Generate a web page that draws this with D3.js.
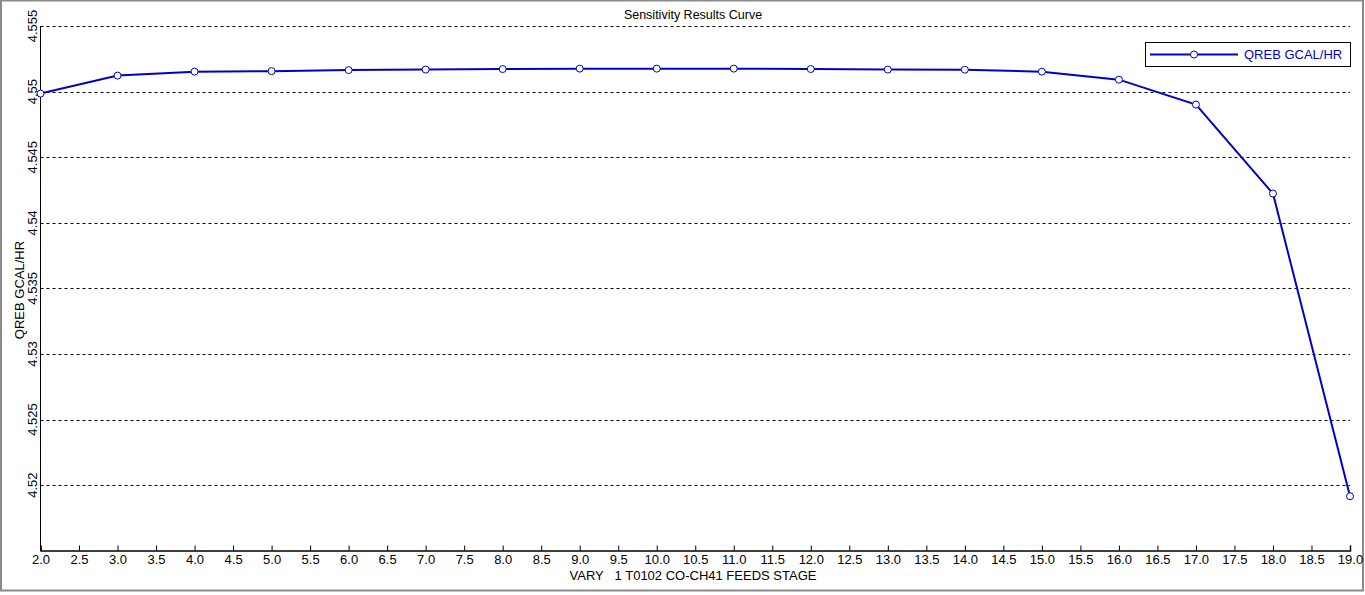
<!DOCTYPE html>
<html>
<head>
<meta charset="utf-8">
<script src="https://cdn.jsdelivr.net/npm/d3@7"></script>
<style>
  body { margin: 0; background: #fff; }
  text { font-family: "Liberation Sans", Arial, sans-serif; }
</style>
</head>
<body>
<svg id="chart"></svg>
<script>
// sensitivity curve data
var stages = [2, 3, 4, 5, 6, 7, 8, 9, 10, 11, 12, 13, 14, 15, 16, 17, 18, 19];
var qreb = [4.54985, 4.55122, 4.55152, 4.55156, 4.55164, 4.55168, 4.55172, 4.55175, 4.55175,
            4.55175, 4.55172, 4.55168, 4.55167, 4.55152, 4.55091, 4.54901, 4.54223, 4.51916];
var yTicks = [4.52, 4.525, 4.53, 4.535, 4.54, 4.545, 4.55, 4.555];
var xTicks = d3.range(2, 19.01, 0.5);

var width = 1365, height = 595;
var plotLeft = 40.5, plotRight = 1350, plotTop = 26, plotBottom = 550;
var lineColor = "#0000cc";

var svg = d3.select("#chart")
    .attr("width", width)
    .attr("height", height);

// window frame
svg.append("rect")
    .attr("x", 1).attr("y", 0.5)
    .attr("width", width - 3).attr("height", height - 5)
    .attr("fill", "#fff")
    .attr("stroke", "#8a8a8a")
    .attr("stroke-width", 2);

var x = d3.scaleLinear().domain([2, 19]).range([plotLeft, plotRight]);
var y = d3.scaleLinear().domain([4.51506, 4.555]).range([plotBottom, plotTop]);

// dashed grid lines
svg.append("g")
    .selectAll("line")
    .data(yTicks)
    .enter()
    .append("line")
    .attr("x1", plotLeft)
    .attr("x2", plotRight)
    .attr("y1", function(d) { return Math.round(y(d)) + 0.5; })
    .attr("y2", function(d) { return Math.round(y(d)) + 0.5; })
    .attr("stroke", "#000")
    .attr("stroke-width", 1)
    .attr("stroke-dasharray", "3,3");

// y axis line + rotated labels
svg.append("line")
    .attr("x1", plotLeft).attr("x2", plotLeft)
    .attr("y1", plotTop).attr("y2", plotBottom)
    .attr("stroke", "#000");

svg.append("g")
    .selectAll("text")
    .data(yTicks)
    .enter()
    .append("text")
    .text(function(d) { return d3.format("")(+d.toFixed(3)); })
    .attr("transform", function(d) { return "translate(37," + y(d) + ") rotate(-90)"; })
    .attr("text-anchor", "middle")
    .attr("font-size", 13);

// x axis
var xAxis = d3.axisBottom(x)
    .tickValues(xTicks)
    .tickSize(-5)
    .tickPadding(4)
    .tickFormat(d3.format(".1f"));

var gx = svg.append("g")
    .attr("transform", "translate(0," + (plotBottom + 0.5) + ")")
    .call(xAxis);
gx.select(".domain").attr("stroke", "#000").attr("stroke-width", 1.5);
gx.selectAll("line").attr("stroke", "#000");
gx.selectAll("text").attr("font-size", 13).attr("fill", "#000")
    .attr("font-family", "Liberation Sans, Arial, sans-serif");

// titles
svg.append("text")
    .text("Sensitivity Results Curve")
    .attr("x", 693).attr("y", 19)
    .attr("text-anchor", "middle")
    .attr("font-size", 12.5);

svg.append("text")
    .text("VARY\u00a0\u00a0\u00a01 T0102 CO-CH41 FEEDS STAGE")
    .attr("x", 693).attr("y", 580)
    .attr("text-anchor", "middle")
    .attr("font-size", 13);

svg.append("text")
    .text("QREB GCAL/HR")
    .attr("transform", "translate(24,290) rotate(-90)")
    .attr("text-anchor", "middle")
    .attr("font-size", 13);

// data line
var line = d3.line()
    .x(function(d, i) { return x(stages[i]); })
    .y(function(d) { return y(d); });

svg.append("path")
    .datum(qreb)
    .attr("d", line)
    .attr("fill", "none")
    .attr("stroke", lineColor)
    .attr("stroke-width", 2);

svg.append("g")
    .selectAll("circle")
    .data(qreb)
    .enter()
    .append("circle")
    .attr("cx", function(d, i) { return x(stages[i]); })
    .attr("cy", function(d) { return y(d); })
    .attr("r", 3.5)
    .attr("fill", "#fff")
    .attr("stroke", lineColor)
    .attr("stroke-width", 1);

// legend
var legend = svg.append("g");
legend.append("rect")
    .attr("x", 1145.5).attr("y", 42.5)
    .attr("width", 205).attr("height", 24)
    .attr("fill", "#fff")
    .attr("stroke", "#000");
legend.append("line")
    .attr("x1", 1150).attr("x2", 1238)
    .attr("y1", 54.5).attr("y2", 54.5)
    .attr("stroke", lineColor)
    .attr("stroke-width", 2);
legend.append("circle")
    .attr("cx", 1194).attr("cy", 54.5).attr("r", 3.5)
    .attr("fill", "#fff")
    .attr("stroke", lineColor);
legend.append("text")
    .text("QREB GCAL/HR")
    .attr("x", 1244).attr("y", 59)
    .attr("font-size", 13)
    .attr("fill", lineColor);
</script>
</body>
</html>
